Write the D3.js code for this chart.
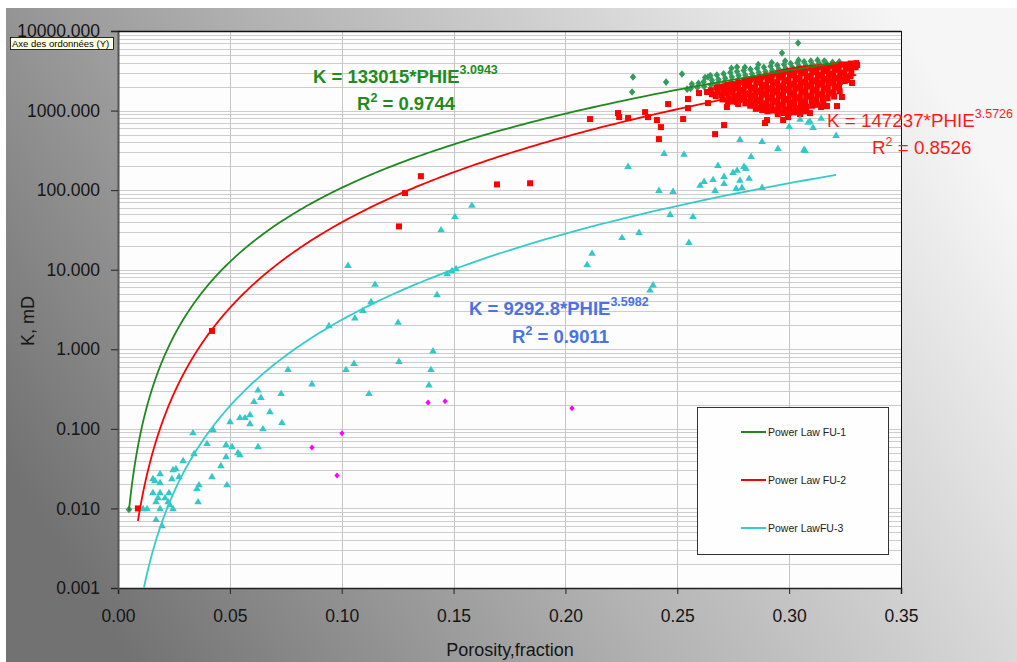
<!DOCTYPE html>
<html>
<head>
<meta charset="utf-8">
<script src="https://d3js.org/d3.v7.min.js"></script>
<style>
  body { margin: 0; background: #fff; }
  svg { display: block; font-family: Arial, "Liberation Sans", sans-serif; }
</style>
<title>Porosity vs permeability</title>
</head>
<body>
<div id="chart"></div>
<script>
    // ---- data: [porosity, K mD] ----
    const fu1Points = [
        [0.0049, 0.0097], [0.2302, 2640], [0.2298, 1710], [0.2450, 2280], [0.2521, 2880],
        [0.2637, 2640], [0.2544, 1860], [0.3040, 7060], [0.2968, 5290], [0.2767, 3520],
        [0.2560, 1900], [0.2565, 2150], [0.2590, 1950], [0.2595, 2200],
        [0.2620, 2000], [0.2618, 2300], [0.2624, 2600], [0.2650, 2100], [0.2655, 2400], [0.2648, 2750],
        [0.2680, 2150], [0.2684, 2450], [0.2677, 2800], [0.2710, 2250], [0.2714, 2550], [0.2707, 2900],
        [0.2740, 2300], [0.2744, 2650], [0.2737, 3000], [0.2742, 3400], [0.2770, 2400], [0.2774, 2750], [0.2767, 3100],
        [0.2800, 2450], [0.2804, 2800], [0.2797, 3200], [0.2802, 3500], [0.2830, 2550], [0.2834, 2900], [0.2827, 3300],
        [0.2860, 2650], [0.2864, 3000], [0.2857, 3400], [0.2862, 3800], [0.2890, 2700], [0.2894, 3100], [0.2887, 3500],
        [0.2920, 2800], [0.2924, 3200], [0.2917, 3600], [0.2922, 4000], [0.2950, 2900], [0.2954, 3300], [0.2947, 3700],
        [0.2980, 3000], [0.2984, 3400], [0.2977, 3800], [0.2982, 4200], [0.3010, 3100], [0.3014, 3500], [0.3007, 3900],
        [0.3040, 3200], [0.3044, 3600], [0.3037, 4000], [0.3042, 4300], [0.3070, 3300], [0.3074, 3700], [0.3067, 4100],
        [0.3100, 3400], [0.3104, 3800], [0.3097, 4200], [0.3130, 3500], [0.3134, 3900], [0.3127, 4300],
        [0.3160, 3600], [0.3164, 4000], [0.3157, 4200], [0.3190, 3700], [0.3194, 4050], [0.3220, 3800], [0.3224, 4100]
    ];

    const fu2Points = [
        [0.0089, 0.0100], [0.0420, 1.70], [0.1256, 35], [0.1283, 92], [0.1354, 150], [0.1694, 118], [0.1842, 122],
        [0.2110, 782], [0.2235, 930], [0.2240, 828], [0.2280, 805], [0.2356, 957], [0.2369, 828], [0.2409, 760],
        [0.2427, 620], [0.2418, 438], [0.2459, 1207], [0.2526, 782], [0.2548, 1075], [0.2548, 1396], [0.2597, 1660],
        [0.2633, 1710], [0.2637, 1242], [0.2669, 506], [0.2709, 657], [0.2722, 1107], [0.2767, 1280], [0.2812, 1242],
        [0.2848, 1242], [0.2879, 1014], [0.2928, 1014], [0.2901, 760], [0.2892, 697], [0.2973, 760], [0.2995, 828],
        [0.3049, 903], [0.3093, 930], [0.3143, 1107], [0.3169, 1140], [0.3214, 1140], [0.3236, 1480], [0.3259, 2420],
        [0.3281, 2220], [0.3295, 3630], [0.3304, 3740],
        [0.2650, 1800], [0.2655, 1600], [0.2675, 1950], [0.2680, 1720], [0.2672, 1520],
        [0.2700, 2000], [0.2705, 1780], [0.2698, 1560], [0.2702, 1380],
        [0.2725, 2100], [0.2728, 1850], [0.2722, 1640], [0.2730, 1420], [0.2726, 1290],
        [0.2750, 2150], [0.2753, 1900], [0.2748, 1680], [0.2755, 1480], [0.2750, 1300],
        [0.2775, 2250], [0.2772, 1980], [0.2778, 1750], [0.2774, 1540], [0.2777, 1350], [0.2772, 1210],
        [0.2800, 2350], [0.2803, 2050], [0.2797, 1820], [0.2802, 1600], [0.2799, 1400], [0.2804, 1230],
        [0.2825, 2450], [0.2822, 2150], [0.2828, 1900], [0.2824, 1660], [0.2827, 1450], [0.2823, 1280], [0.2826, 1150],
        [0.2850, 2550], [0.2853, 2250], [0.2847, 1950], [0.2852, 1720], [0.2849, 1500], [0.2854, 1320], [0.2848, 1160], [0.2851, 1050],
        [0.2875, 2650], [0.2872, 2300], [0.2878, 2000], [0.2874, 1780], [0.2877, 1560], [0.2873, 1370], [0.2876, 1200], [0.2872, 1080],
        [0.2900, 2750], [0.2903, 2400], [0.2897, 2100], [0.2902, 1850], [0.2899, 1620], [0.2904, 1420], [0.2898, 1240], [0.2901, 1100], [0.2903, 980],
        [0.2925, 2850], [0.2922, 2500], [0.2928, 2200], [0.2924, 1920], [0.2927, 1680], [0.2923, 1470], [0.2926, 1280], [0.2922, 1120], [0.2928, 1000],
        [0.2950, 2950], [0.2953, 2600], [0.2947, 2280], [0.2952, 2000], [0.2949, 1750], [0.2954, 1520], [0.2948, 1330], [0.2951, 1150], [0.2953, 1000], [0.2949, 900],
        [0.2975, 3050], [0.2972, 2700], [0.2978, 2350], [0.2974, 2060], [0.2977, 1800], [0.2973, 1560], [0.2976, 1360], [0.2972, 1180], [0.2978, 1030], [0.2975, 930],
        [0.3000, 3150], [0.3003, 2780], [0.2997, 2420], [0.3002, 2120], [0.2999, 1850], [0.3004, 1600], [0.2998, 1400], [0.3001, 1220], [0.3003, 1060], [0.2999, 940],
        [0.3025, 3250], [0.3022, 2850], [0.3028, 2500], [0.3024, 2180], [0.3027, 1900], [0.3023, 1650], [0.3026, 1430], [0.3022, 1250], [0.3028, 1080], [0.3025, 950],
        [0.3050, 3350], [0.3053, 2950], [0.3047, 2580], [0.3052, 2250], [0.3049, 1950], [0.3054, 1700], [0.3048, 1470], [0.3051, 1280], [0.3053, 1100], [0.3049, 970],
        [0.3075, 3400], [0.3072, 3000], [0.3078, 2650], [0.3074, 2300], [0.3077, 2000], [0.3073, 1740], [0.3076, 1500], [0.3072, 1300], [0.3078, 1120], [0.3075, 980],
        [0.3100, 3450], [0.3103, 3050], [0.3097, 2700], [0.3102, 2350], [0.3099, 2050], [0.3104, 1780], [0.3098, 1540], [0.3101, 1330], [0.3103, 1150],
        [0.3125, 3500], [0.3122, 3100], [0.3128, 2750], [0.3124, 2400], [0.3127, 2100], [0.3123, 1820], [0.3126, 1580], [0.3122, 1370], [0.3128, 1180],
        [0.3150, 3550], [0.3153, 3150], [0.3147, 2800], [0.3152, 2450], [0.3149, 2150], [0.3154, 1860], [0.3148, 1620], [0.3151, 1400], [0.3153, 1200],
        [0.3175, 3600], [0.3172, 3200], [0.3178, 2850], [0.3174, 2500], [0.3177, 2200], [0.3173, 1900], [0.3176, 1650], [0.3172, 1430],
        [0.3200, 3700], [0.3203, 3250], [0.3197, 2900], [0.3202, 2550], [0.3199, 2250], [0.3204, 1950], [0.3198, 1700], [0.3201, 1500],
        [0.3225, 3750], [0.3222, 3300], [0.3228, 2950], [0.3224, 2600], [0.3227, 2300], [0.3223, 2000], [0.3226, 1750],
        [0.3250, 3800], [0.3253, 3350], [0.3247, 3000], [0.3252, 2650], [0.3249, 2350],
        [0.3275, 3900], [0.3272, 3450], [0.3278, 3050], [0.3274, 2700], [0.3300, 3950], [0.3297, 3500]
    ];

    const fu3Points = [
        [0.0335, 0.090], [0.0425, 0.0986], [0.0608, 0.222], [0.0679, 0.166], [0.0733, 0.121], [0.0545, 0.140],
        [0.0568, 0.140], [0.0590, 0.152], [0.0590, 0.117], [0.0501, 0.124], [0.0648, 0.101], [0.0398, 0.0658],
        [0.0483, 0.0638], [0.0510, 0.0603], [0.0626, 0.0603], [0.0536, 0.0506], [0.0545, 0.0477], [0.0483, 0.0451],
        [0.0460, 0.0347], [0.0291, 0.0402], [0.0340, 0.0492], [0.0246, 0.0310], [0.0259, 0.0319], [0.0241, 0.0238],
        [0.0273, 0.0253], [0.0156, 0.0238], [0.0165, 0.0225], [0.0188, 0.0276], [0.0188, 0.0212], [0.0420, 0.0253],
        [0.0362, 0.0200], [0.0353, 0.0179], [0.0487, 0.0200], [0.0358, 0.0122], [0.0156, 0.0159], [0.0188, 0.0159],
        [0.0228, 0.0159], [0.0179, 0.0137], [0.0210, 0.0137], [0.0170, 0.0122], [0.0224, 0.0122], [0.0232, 0.0112],
        [0.0112, 0.0100], [0.0130, 0.0100], [0.0188, 0.0100], [0.0246, 0.0100], [0.0170, 0.0073], [0.0197, 0.0061],
        [0.1028, 11.4], [0.1149, 6.6], [0.1131, 4.0], [0.1095, 3.1], [0.1059, 2.5], [0.0943, 2.0],
        [0.0760, 0.56], [0.0867, 0.37], [0.1019, 0.56], [0.1055, 0.67], [0.0626, 0.31], [0.0639, 0.25],
        [0.0729, 0.28], [0.1122, 0.28], [0.1506, 47], [0.1582, 65], [0.1444, 32],
        [0.1252, 2.2], [0.1256, 0.71], [0.1408, 0.96], [0.1399, 0.56], [0.1390, 0.36], [0.1426, 4.9],
        [0.1471, 9.0], [0.1493, 9.8], [0.1511, 10.4],
        [0.2280, 200], [0.2441, 292], [0.2530, 284], [0.2780, 438], [0.2879, 413], [0.2950, 337], [0.3067, 328],
        [0.3210, 492], [0.2830, 268], [0.2682, 206], [0.2798, 200], [0.2807, 189], [0.2767, 179], [0.2749, 168],
        [0.2709, 150], [0.2821, 142], [0.2660, 137], [0.2620, 130], [0.2602, 116], [0.2709, 122], [0.2780, 134],
        [0.2763, 106], [0.2789, 109], [0.2879, 109], [0.2669, 100], [0.2418, 100], [0.2481, 97], [0.2468, 50],
        [0.2570, 47], [0.2253, 25.6], [0.2329, 29.7], [0.2552, 22.2], [0.2119, 16.2], [0.2097, 11.7],
        [0.2378, 5.6], [0.2392, 6.5],
        [0.3049, 782], [0.3093, 738], [0.3107, 620], [0.3143, 805], [0.3000, 638], [0.3071, 318], [0.3085, 717]
    ];

    const fu4Points = [
        [0.0867, 0.0585], [0.1001, 0.0878], [0.0979, 0.026], [0.1386, 0.215], [0.1462, 0.222], [0.2029, 0.181]
    ];

    // power law trend lines K = a * PHIE^b, as printed on the chart
    const trendNames = ["Power Law FU-1", "Power Law FU-2", "Power LawFU-3"];
    const trendA = [133015, 147237, 9292.8];
    const trendB = [3.0943, 3.5726, 3.5982];
    const trendR2 = ["0.9744", "0.8526", "0.9011"];
    const trendFrom = [0.0049, 0.0089, 0.0116];
    const trendTo = [0.322, 0.330, 0.321];
    const trendColors = ["#1e8a1e", "#ff0000", "#33cccc"];

    const xTicks = [0, 0.05, 0.10, 0.15, 0.20, 0.25, 0.30, 0.35];
    const yTicks = [0.001, 0.01, 0.1, 1, 10, 100, 1000, 10000];

    const width = 1017, height = 662;
    const plot = { left: 118, right: 901, top: 31, bottom: 588 };

    const svg = d3.select("#chart").append("svg")
        .attr("width", width)
        .attr("height", height);

    // grey gradient behind everything
    const grad = svg.append("defs").append("linearGradient")
        .attr("id", "bg")
        .attr("x1", 0).attr("y1", 0.7).attr("x2", 1).attr("y2", 0.3);
    grad.append("stop").attr("offset", "0%").attr("stop-color", "#727272");
    grad.append("stop").attr("offset", "45%").attr("stop-color", "#b2b2b2");
    grad.append("stop").attr("offset", "100%").attr("stop-color", "#f6f6f6");

    svg.append("rect")
        .attr("x", 6).attr("y", 8)
        .attr("width", width - 6).attr("height", height - 8)
        .attr("fill", "url(#bg)");

    const xScale = d3.scaleLinear().domain([0, 0.35]).range([plot.left, plot.right]);
    const yScale = d3.scaleLog().domain([0.001, 10000]).range([plot.bottom, plot.top]);

    // plot area
    svg.append("rect")
        .attr("x", plot.left).attr("y", plot.top)
        .attr("width", plot.right - plot.left).attr("height", plot.bottom - plot.top)
        .attr("fill", "#fcfdfc");

    // minor log grid (1..9 of each decade)
    const gridValues = [];
    yTicks.slice(0, -1).forEach(function (d) {
        for (let m = 1; m < 10; m++) gridValues.push(d * m);
    });
    gridValues.push(10000);

    svg.append("g").selectAll("line")
        .data(gridValues)
        .enter().append("line")
        .attr("x1", plot.left).attr("x2", plot.right)
        .attr("y1", d => Math.round(yScale(d)) + 0.5)
        .attr("y2", d => Math.round(yScale(d)) + 0.5)
        .attr("stroke", "#cdcdcd")
        .attr("stroke-width", 1);

    svg.append("g").selectAll("line")
        .data(xTicks.slice(1, -1))
        .enter().append("line")
        .attr("x1", d => Math.round(xScale(d)) + 0.5)
        .attr("x2", d => Math.round(xScale(d)) + 0.5)
        .attr("y1", plot.top).attr("y2", plot.bottom)
        .attr("stroke", "#c4c4c4")
        .attr("stroke-width", 1);

    // axes
    const xAxis = svg.append("g")
        .attr("transform", "translate(0," + plot.bottom + ")")
        .call(d3.axisBottom(xScale).tickValues(xTicks).tickFormat(d3.format(".2f")).tickSize(6).tickPadding(16));
    const yAxis = svg.append("g")
        .attr("transform", "translate(" + plot.left + ",0)")
        .call(d3.axisLeft(yScale).tickValues(yTicks).tickFormat(d3.format(".3f")).tickSize(7).tickPadding(11));

    [xAxis, yAxis].forEach(function (ax) {
        ax.attr("font-family", null).attr("font-size", null);
        ax.select(".domain").attr("stroke", "#222").attr("stroke-width", 1.5);
        ax.selectAll(".tick line").attr("stroke", "#222");
        ax.selectAll(".tick text").attr("fill", "#151515").style("font-size", "17.5px");
    });
    yAxis.select(".domain").attr("stroke", "#555").attr("stroke-width", 2);

    // frame top and right
    svg.append("line")
        .attr("x1", plot.left).attr("x2", plot.right + 0.5)
        .attr("y1", plot.top + 0.5).attr("y2", plot.top + 0.5)
        .attr("stroke", "#111").attr("stroke-width", 1.5);
    svg.append("line")
        .attr("x1", plot.right + 0.5).attr("x2", plot.right + 0.5)
        .attr("y1", plot.top).attr("y2", plot.bottom)
        .attr("stroke", "#111").attr("stroke-width", 1);

    // axis titles
    svg.append("text")
        .attr("transform", "translate(34,321) rotate(-90)")
        .attr("text-anchor", "middle")
        .style("font-size", "18px")
        .attr("fill", "#151515")
        .text("K, mD");
    svg.append("text")
        .attr("x", 510).attr("y", 656)
        .attr("text-anchor", "middle")
        .style("font-size", "18px")
        .attr("fill", "#151515")
        .text("Porosity,fraction");

    // markers
    const diamond = "M0,-3.8L3.2,0L0,3.8L-3.2,0Z";
    const square = "M-3,-3H3V3H-3Z";
    const triangle = "M0,-3.6L3.8,2.8L-3.8,2.8Z";
    const smallDiamond = "M0,-3L2.6,0L0,3L-2.6,0Z";

    function drawPoints(points, shape, color) {
        svg.append("g").selectAll("path")
            .data(points)
            .enter().append("path")
            .attr("d", shape)
            .attr("transform", d => "translate(" + xScale(d[0]) + "," + yScale(d[1]) + ")")
            .attr("fill", color);
    }
    drawPoints(fu1Points, diamond, "#349a5c");
    drawPoints(fu2Points, square, "#ff0000");
    drawPoints(fu3Points, triangle, "#33c8c8");
    drawPoints(fu4Points, smallDiamond, "#ff00ff");

    // trend curves
    const line = d3.line()
        .x(d => xScale(d[0]))
        .y(d => yScale(d[1]));

    trendA.forEach(function (a, i) {
        const lo = trendFrom[i], hi = trendTo[i];
        const pts = d3.range(0, 241).map(function (j) {
            const phi = lo * Math.pow(hi / lo, j / 240);
            return [phi, a * Math.pow(phi, trendB[i])];
        });
        svg.append("path")
            .datum(pts)
            .attr("d", line)
            .attr("fill", "none")
            .attr("stroke", trendColors[i])
            .attr("stroke-width", 1.8);
    });

    // equations
    const eqPos = [
        { x: 313, y: 83, rx: 357, ry: 110, weight: "bold", size: 18.5, color: "#1e8c1e" },
        { x: 827, y: 127, rx: 872, ry: 154, weight: "normal", size: 18.8, color: "#ff1a1a" },
        { x: 469, y: 315, rx: 512, ry: 343, weight: "bold", size: 18.5, color: "#4a72e6" }
    ];
    eqPos.forEach(function (p, i) {
        const t = svg.append("text")
            .attr("x", p.x).attr("y", p.y)
            .attr("fill", p.color)
            .attr("font-weight", p.weight)
            .style("font-size", p.size + "px");
        t.append("tspan").text("K = " + trendA[i] + "*PHIE");
        t.append("tspan").attr("dy", -9).style("font-size", "12.5px").text(trendB[i]);

        const r = svg.append("text")
            .attr("x", p.rx).attr("y", p.ry)
            .attr("fill", p.color)
            .attr("font-weight", p.weight)
            .style("font-size", p.size + "px");
        r.append("tspan").text("R");
        r.append("tspan").attr("dy", -8).style("font-size", "12.5px").text("2");
        r.append("tspan").attr("dy", 8).text(" = " + trendR2[i]);
    });

    // legend
    const legend = svg.append("g");
    legend.append("rect")
        .attr("x", 697.5).attr("y", 407.5)
        .attr("width", 191).attr("height", 147)
        .attr("fill", "#fdfefd")
        .attr("stroke", "#333");
    trendNames.forEach(function (name, i) {
        const ly = 432 + i * 48;
        legend.append("line")
            .attr("x1", 741).attr("x2", 766)
            .attr("y1", ly).attr("y2", ly)
            .attr("stroke", trendColors[i])
            .attr("stroke-width", 2);
        legend.append("text")
            .attr("x", 768).attr("y", ly + 4)
            .style("font-size", "10.5px")
            .attr("fill", "#222")
            .text(name);
    });

    // the yellow tooltip left over on the y axis
    svg.append("rect")
        .attr("x", 10.5).attr("y", 37.5)
        .attr("width", 103).attr("height", 12)
        .attr("fill", "#ffffe1")
        .attr("stroke", "#000")
        .attr("stroke-width", 0.8);
    svg.append("text")
        .attr("x", 12).attr("y", 47)
        .style("font-size", "9.5px")
        .attr("fill", "#000")
        .text("Axe des ordonnées (Y)");
</script>
</body>
</html>
